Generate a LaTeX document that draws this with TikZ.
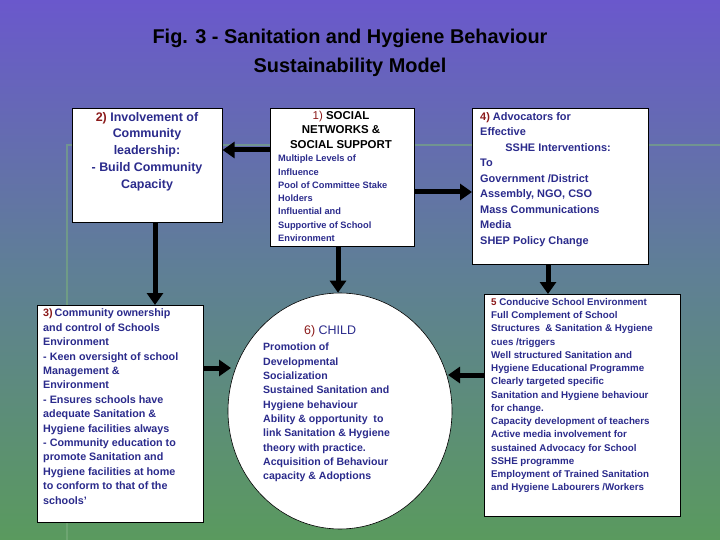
\documentclass[tikz,border=0pt]{standalone}
\usepackage{fontspec}
\setmainfont{Liberation Sans}
\usetikzlibrary{shapes.geometric,calc,arrows.meta}
\definecolor{tblue}{HTML}{2B2B8C}
\definecolor{nred}{HTML}{8B1A1A}
\definecolor{bgtop}{HTML}{6A58CC}
\definecolor{bgmid}{HTML}{5F7F96}
\definecolor{bgbot}{HTML}{5A9A5E}
\tikzset{
  box/.style={draw=black,fill=white,line width=0.6bp,anchor=north west,inner sep=0},
  txt/.style={text=tblue,font=\bfseries,anchor=north west,inner sep=0,align=left},
  arr/.style={line width=5bp,-{Triangle[length=12bp,width=16bp]}}
}
\begin{document}
\begin{tikzpicture}[x=1bp,y=-1bp]
\shade[top color=bgtop,bottom color=bgbot,middle color=bgmid] (0,0) rectangle (720,540);
\useasboundingbox (0,0) rectangle (720,540);
\draw[color=bgbot!80!white,line width=2bp,opacity=0.6] (67,540) -- (67,145) -- (720,145);
\node[font=\bfseries\fontsize{20}{29}\selectfont,text=black,align=center] (title) at (350,53) {Fig. 3 - Sanitation and Hygiene Behaviour\\Sustainability Model};
% boxes
\node[box,minimum width=150bp,minimum height=114bp] (b2) at (72,108) {};
\node[box,minimum width=144bp,minimum height=138bp] (b1) at (270,108) {};
\node[box,minimum width=176bp,minimum height=156bp] (b4) at (472,108) {};
\node[box,minimum width=166bp,minimum height=217bp] (b3) at (37,305) {};
\node[box,minimum width=196bp,minimum height=222bp] (b5) at (484,294) {};
\node[draw=black,fill=white,line width=0.6bp,ellipse,minimum width=224bp,minimum height=236bp,inner sep=0] (c6) at (340,411) {};
% texts
\node[txt,anchor=north,align=center,font=\bfseries\fontsize{12.5}{16.8}\selectfont] (t2) at (147,112) {\textcolor{nred}{2)} Involvement of\\Community\\leadership:\\- Build Community\\Capacity};
\node[txt,anchor=north,align=center,text=black,font=\bfseries\fontsize{11.5}{14.5}\selectfont] (t1a) at (341,111) {\textcolor{nred}{\mdseries 1)} SOCIAL\\NETWORKS \&\\SOCIAL SUPPORT};
\node[txt,font=\bfseries\fontsize{9.3}{13.3}\selectfont] (t1b) at (278,155) {Multiple Levels of\\Influence\\Pool of Committee Stake\\Holders\\Influential and\\Supportive of School\\Environment};
\node[txt,font=\bfseries\fontsize{11}{15.6}\selectfont] (t4) at (480,112) {\textcolor{nred}{4)} Advocators for\\Effective\\\hspace*{2.3em}SSHE Interventions:\\To\\Government /District\\Assembly, NGO, CSO\\Mass Communications\\Media\\SHEP Policy Change};
\node[txt,font=\bfseries\fontsize{10.8}{14.45}\selectfont] (t3) at (43,309) {\textcolor{nred}{3)}\,Community ownership\\and control of Schools\\Environment\\- Keen oversight of school\\Management \&\\Environment\\- Ensures schools have\\adequate Sanitation \&\\Hygiene facilities always\\- Community education to\\promote Sanitation and\\Hygiene facilities at home\\to conform to that of the\\schools'};
\node[txt,font=\bfseries\fontsize{9.8}{13.3}\selectfont] (t5) at (491,298) {\textcolor{nred}{5} Conducive School Environment\\Full Complement of School\\Structures\ \ \& Sanitation \& Hygiene\\cues /triggers\\Well structured Sanitation and\\Hygiene Educational Programme\\Clearly targeted specific\\Sanitation and Hygiene behaviour\\for change.\\Capacity development of teachers\\Active media involvement for\\sustained Advocacy for School\\SSHE programme\\Employment of Trained Sanitation\\and Hygiene Labourers /Workers};
\node[txt,font=\mdseries\fontsize{12.5}{15}\selectfont] (t6a) at (304,325) {\textcolor{nred}{6)} CHILD};
\node[txt,font=\bfseries\fontsize{10.6}{14.4}\selectfont] (t6b) at (263,343) {Promotion of\\Developmental\\Socialization\\Sustained Sanitation and\\Hygiene behaviour\\Ability \& opportunity\ \ to\\link Sanitation \& Hygiene\\theory with practice.\\Acquisition of Behaviour\\capacity \& Adoptions};
% arrows
\draw[arr] ($(b1.north west)+(0,42)$) -- ($(b2.north east)+(0,42)$);
\draw[arr] ($(b1.north east)+(0,84)$) -- ($(b4.north west)+(0,84)$);
\draw[arr] ($(b2.south west)+(83,0)$) -- ($(b3.north west)+(118,0)$);
\draw[arr] ($(b1.south west)+(68,0)$) -- (c6.north -| {$(b1.south west)+(68,0)$});
\draw[arr] ($(b4.south west)+(76,0)$) -- ($(b5.north west)+(64,0)$);
\draw[arr] ($(b5.north west)+(0,81)$) -- ($(c6.center)+(108,-36)$);
\draw[arr] ($(b3.north east)+(0,63)$) -- ($(c6.center)+(-109,-43)$);
\end{tikzpicture}
\end{document}
